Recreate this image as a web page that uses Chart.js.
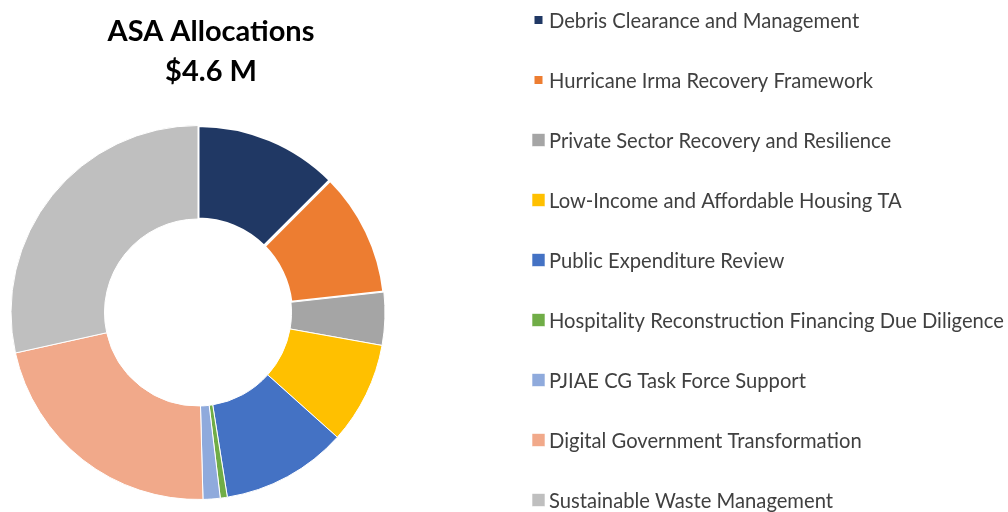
<!DOCTYPE html>
<html>
<head>
<meta charset="utf-8">
<script src="https://cdn.jsdelivr.net/npm/chart.js@4/dist/chart.umd.min.js"></script>
<style>
  html, body { margin: 0; padding: 0; background: #ffffff; }
  #wrap { width: 1008px; height: 512px; position: relative; }
</style>
</head>
<body>
<div id="wrap"><canvas id="c" width="1008" height="512"></canvas></div>
<script>
// ---- data ----
const titleLines = ["ASA Allocations", "$4.6 M"];
const categories = [
  "Debris Clearance and Management",
  "Hurricane Irma Recovery Framework",
  "Private Sector Recovery and Resilience",
  "Low-Income and Affordable Housing TA",
  "Public Expenditure Review",
  "Hospitality Reconstruction Financing Due Diligence",
  "PJIAE CG Task Force Support",
  "Digital Government Transformation",
  "Sustainable Waste Management"
];
const allocations = [575, 495, 210, 405, 500, 28, 68, 1010, 1310]; // US$ thousands (approx.)
const sliceColors = ["#203864", "#ED7D31", "#A5A5A5", "#FFC000", "#4472C4", "#70AD47", "#8FAADC", "#F1A98A", "#BFBFBF"];
const sliceBorders = [3, 3, 1, 1, 1, 1, 1, 1, 1];

// ---- plugins: title over the ring and legend list on the right ----
const titlePlugin = {
  id: 'ringTitle',
  afterDraw(chart) {
    const ctx = chart.ctx;
    ctx.save();
    ctx.fillStyle = '#000000';
    ctx.font = 'bold 29px Lato, "Liberation Sans", sans-serif';
    ctx.textAlign = 'center';
    ctx.textBaseline = 'alphabetic';
    ctx.fillText(titleLines[0], 211, 40.5);
    ctx.fillText(titleLines[1], 211, 80.5);
    ctx.restore();
  }
};

const listLegend = {
  id: 'listLegend',
  afterDraw(chart) {
    const ctx = chart.ctx;
    const ds = chart.data.datasets[0];
    ctx.save();
    ctx.font = '20.2px Lato, "Liberation Sans", sans-serif';
    ctx.textBaseline = 'middle';
    ctx.textAlign = 'left';
    chart.data.labels.forEach((lab, i) => {
      const cy = 20 + 60 * i;
      const bw = ds.borderWidth[i];
      ctx.fillStyle = ds.backgroundColor[i];
      ctx.fillRect(532, cy - 6.5, 13, 13);
      ctx.strokeStyle = '#ffffff';
      ctx.lineWidth = bw > 1 ? 2 * bw - 1 : 0.6;
      ctx.strokeRect(532, cy - 6.5, 13, 13);
      ctx.fillStyle = '#404040';
      ctx.fillText(lab, 549, cy + 1);
    });
    ctx.restore();
  }
};

new Chart(document.getElementById('c'), {
  type: 'doughnut',
  data: {
    labels: categories,
    datasets: [{
      data: allocations,
      backgroundColor: sliceColors,
      borderColor: '#ffffff',
      borderWidth: sliceBorders,
      hoverOffset: 0,
      hoverBorderWidth: 0
    }]
  },
  options: {
    responsive: false,
    animation: false,
    cutout: '50%',
    layout: { padding: { left: 9.5, right: 621.5, top: 124, bottom: 11 } },
    plugins: {
      legend: { display: false },
      title: { display: false },
      tooltip: { enabled: false }
    }
  },
  plugins: [titlePlugin, listLegend]
});
</script>
</body>
</html>
